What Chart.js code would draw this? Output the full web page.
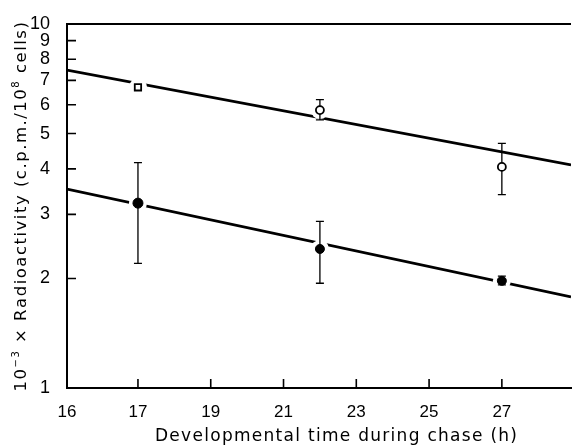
<!DOCTYPE html>
<html>
<head>
<meta charset="utf-8">
<script src="https://cdn.jsdelivr.net/npm/chart.js@4.4.1/dist/chart.umd.min.js"></script>
<style>
  html, body { margin: 0; padding: 0; background: #fff; overflow: hidden; }
  #wrap { width: 572px; height: 445px; }
</style>
</head>
<body>
<div id="wrap"><canvas id="c"></canvas></div>
<script>
// sampling times (h)
const times = [17, 22, 27];
// open circles
const openMean = [6.7, 5.8, 4.05];
const openLow  = [6.6, 5.45, 3.4];
const openHigh = [6.8, 6.2, 4.7];
// filled circles
const filledMean = [3.22, 2.41, 1.97];
const filledLow  = [2.2, 1.94, 1.92];
const filledHigh = [4.16, 2.87, 2.03];
// fitted lines (ends)
const fitX = [15.05, 28.9];
const openFit = [7.47, 4.10];
const filledFit = [3.52, 1.78];
// axis ticks
const xTicks = [17, 19, 21, 23, 25, 27];
const xOriginLabel = '16';
const yTicks = [1, 2, 3, 4, 5, 6, 7, 8, 9, 10];
// axis titles
const xTitle = 'Developmental time during chase (h)';
const yTitle = [['10', 0], ['\u22123', 1], [' \u00D7 Radioactivity (c.p.m./10', 0], ['8', 1], [' cells)', 0]];

const pts = (xs, ys) => xs.map((x, i) => ({ x, y: ys[i] }));
const TICK_FONT = '"Liberation Sans", Arial, sans-serif';
const TITLE_FONT = '"DejaVu Sans", sans-serif';

// draw text pieces (normal / superscript) spread to a given width
function spreadText(ctx, parts, cx, cy, width, size) {
  const fontOf = sup => (sup ? Math.round(size * 0.62) : size) + 'px ' + TITLE_FONT;
  let raw = 0, n = 0;
  parts.forEach(([t, sup]) => { ctx.font = fontOf(sup); raw += ctx.measureText(t).width; n += t.length; });
  const sp = (width - raw) / (n - 1);
  let x = cx - width / 2;
  ctx.textAlign = 'left';
  ctx.textBaseline = 'alphabetic';
  parts.forEach(([t, sup]) => {
    ctx.font = fontOf(sup);
    for (const ch of t) {
      ctx.fillText(ch, x, cy + (sup ? -size * 0.45 : 0));
      x += ctx.measureText(ch).width + sp;
    }
  });
}

const extras = {
  id: 'extras',
  afterDatasetDraw(chart, args) {
    if (args.index !== 2) return; // after halo: error bars
    const ctx = chart.ctx, xs = chart.scales.x, ys = chart.scales.y;
    ctx.save();
    ctx.strokeStyle = '#000';
    ctx.lineWidth = 1.3;
    const bar = (t, lo, hi) => {
      const px = xs.getPixelForValue(t);
      const y1 = ys.getPixelForValue(lo), y2 = ys.getPixelForValue(hi);
      ctx.beginPath();
      ctx.moveTo(px, y1); ctx.lineTo(px, y2);
      ctx.moveTo(px - 4, y1); ctx.lineTo(px + 4, y1);
      ctx.moveTo(px - 4, y2); ctx.lineTo(px + 4, y2);
      ctx.stroke();
    };
    times.forEach((t, i) => {
      bar(t, openLow[i], openHigh[i]);
      bar(t, filledLow[i], filledHigh[i]);
    });
    ctx.restore();
  },
  afterDraw(chart) {
    const ctx = chart.ctx, a = chart.chartArea;
    const xs = chart.scales.x, ys = chart.scales.y;
    ctx.save();
    ctx.strokeStyle = '#000';
    ctx.lineWidth = 2;
    ctx.beginPath();
    ctx.moveTo(a.left, a.top); ctx.lineTo(a.right, a.top);
    ctx.stroke();
    ctx.lineWidth = 1.6;
    ctx.beginPath();
    xTicks.forEach(v => {
      const px = xs.getPixelForValue(v);
      ctx.moveTo(px, a.bottom); ctx.lineTo(px, a.bottom - 9);
    });
    yTicks.slice(1, -1).forEach(v => {
      const py = ys.getPixelForValue(v);
      ctx.moveTo(a.left, py); ctx.lineTo(a.left + 9, py);
    });
    ctx.stroke();

    // axis titles
    ctx.fillStyle = '#000';
    spreadText(ctx, [[xTitle, 0]], 336, 441, 362, 17);
    ctx.translate(26, (a.top + a.bottom) / 2 + 1);
    ctx.rotate(-Math.PI / 2);
    spreadText(ctx, yTitle, 0, 0, 369, 16.5);
    ctx.restore();
  }
};

new Chart(document.getElementById('c'), {
  type: 'scatter',
  data: {
    datasets: [
      { label: 'openFit', type: 'line', data: pts(fitX, openFit), borderColor: '#000', borderWidth: 2.7, pointRadius: 0, order: 4 },
      { label: 'filledFit', type: 'line', data: pts(fitX, filledFit), borderColor: '#000', borderWidth: 2.7, pointRadius: 0, order: 3 },
      { label: 'halo', data: pts(times, openMean).concat(pts(times, filledMean)), pointRadius: 9, backgroundColor: '#fff', borderWidth: 0, order: 2 },
      { label: 'open', data: pts(times, openMean), pointStyle: ['rect', 'circle', 'circle'], pointRadius: [4.5, 4, 4], backgroundColor: '#fff', borderColor: '#000', borderWidth: 1.8, order: 1 },
      { label: 'filled', data: pts(times, filledMean), pointRadius: [5, 4.5, 4.5], backgroundColor: '#000', borderColor: '#000', borderWidth: 1, order: 0 }
    ]
  },
  options: {
    responsive: true,
    maintainAspectRatio: false,
    animation: false,
    layout: { autoPadding: false, padding: { top: 24, right: 1, left: 0, bottom: 0 } },
    plugins: { legend: { display: false }, tooltip: { enabled: false } },
    scales: {
      x: {
        type: 'linear', min: fitX[0], max: fitX[1],
        grid: { display: false },
        border: { display: true, color: '#000', width: 2 },
        afterBuildTicks: s => { s.ticks = [{ value: s.min }].concat(xTicks.map(v => ({ value: v }))); },
        afterFit: s => { s.height = 57; s.paddingRight = 0; s.paddingLeft = 0; },
        ticks: {
          color: '#000', padding: 6, maxRotation: 0,
          font: { family: TICK_FONT, size: 17 },
          callback: (v, i) => i === 0 ? xOriginLabel : String(v)
        }
      },
      y: {
        type: 'logarithmic', min: 1, max: 10,
        grid: { display: false },
        border: { display: true, color: '#000', width: 2 },
        afterBuildTicks: s => { s.ticks = yTicks.map(v => ({ value: v })); },
        afterFit: s => { s.width = 67; s.paddingTop = 0; s.paddingBottom = 0; },
        ticks: {
          color: '#000', padding: 9,
          font: { family: TICK_FONT, size: 18 },
          callback: v => String(v)
        }
      }
    }
  },
  plugins: [extras]
});
</script>
</body>
</html>
